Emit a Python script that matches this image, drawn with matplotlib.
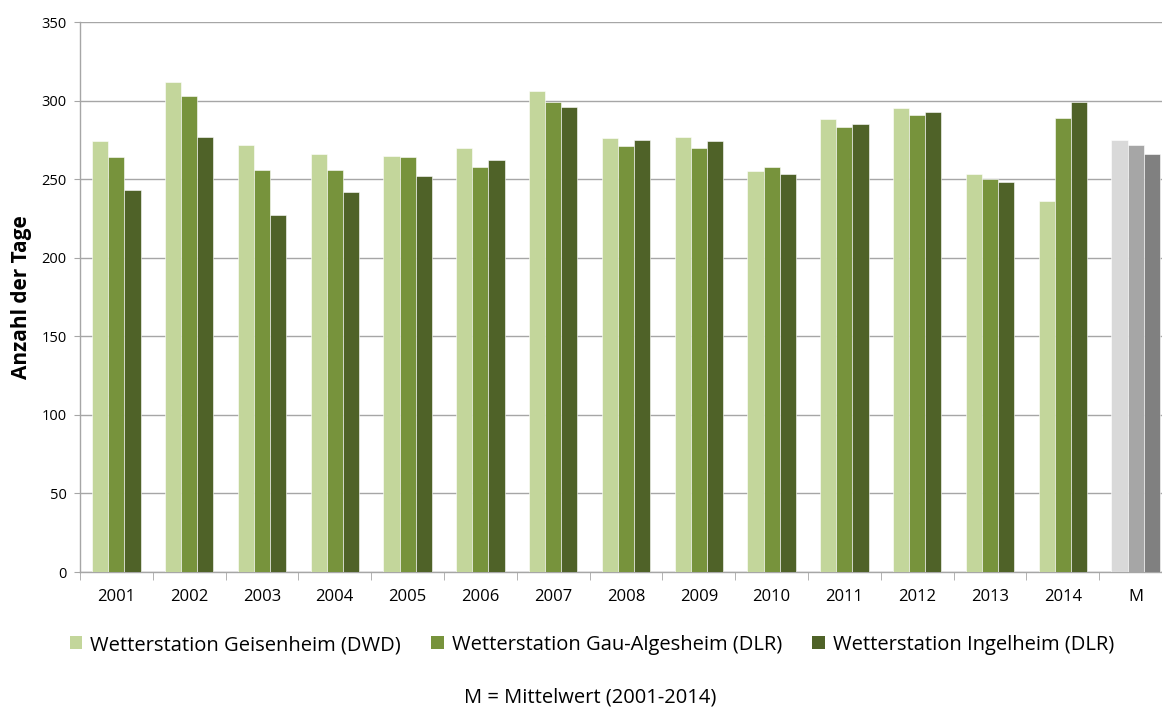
import numpy as np
import matplotlib.pyplot as plt
from matplotlib.patches import Patch

# Data
categories = ['2001', '2002', '2003', '2004', '2005', '2006', '2007',
              '2008', '2009', '2010', '2011', '2012', '2013', '2014', 'M']
geisenheim = [274, 312, 272, 266, 265, 270, 306, 276, 277, 255, 288, 295, 253, 236, 275]
gau_algesheim = [264, 303, 256, 256, 264, 258, 299, 271, 270, 258, 283, 291, 250, 289, 272]
ingelheim = [243, 277, 227, 242, 252, 262, 296, 275, 274, 253, 285, 293, 248, 299, 266]
series_names = ['Wetterstation Geisenheim (DWD)',
                'Wetterstation Gau-Algesheim (DLR)',
                'Wetterstation Ingelheim (DLR)']

green_colors = ['#C3D69B', '#77933C', '#4F6228']
gray_colors = ['#D9D9D9', '#A6A6A6', '#808080']

plt.rcParams['font.family'] = ['Open Sans', 'DejaVu Sans']

W, H = 1162, 707
fig = plt.figure(figsize=(W / 100, H / 100), dpi=100)
# plot area runs a little past the right edge, like the original
ax = fig.add_axes([80 / W, 1 - 572 / H, 1092 / W, 550 / H])

x = np.arange(len(categories))
width = 0.222
all_series = [geisenheim, gau_algesheim, ingelheim]
for i, vals in enumerate(all_series):
    cols = [green_colors[i]] * (len(categories) - 1) + [gray_colors[i]]
    ax.bar(x + (i - 1) * width, vals, width, color=cols,
           edgecolor='white', linewidth=0.4, zorder=3)

ax.set_xlim(-0.5, len(categories) - 0.5)
ax.set_ylim(0, 350)
ax.set_yticks(np.arange(0, 351, 50))
ax.grid(axis='y', color='#A6A6A6', linewidth=1.0, zorder=0)

ax.set_xticks(x)
ax.set_xticklabels(categories, fontsize=12)
ax.set_xticks(np.arange(-0.5, len(categories), 1), minor=True)
ax.tick_params(axis='x', which='major', length=0, pad=12)
ax.tick_params(axis='x', which='minor', length=6, color='#A6A6A6', direction='out')
ax.tick_params(axis='y', length=4.5, color='#A6A6A6', labelsize=10.5, pad=5)

for side in ['top', 'right']:
    ax.spines[side].set_visible(False)
for side in ['left', 'bottom']:
    ax.spines[side].set_color('#A6A6A6')
    ax.spines[side].set_linewidth(1.0)

ax.set_ylabel('Anzahl der Tage', fontsize=15, fontweight='bold')
ax.yaxis.set_label_coords(-48 / 1092, 0.5)

handles = [Patch(facecolor=c, edgecolor='none') for c in green_colors]
fig.legend(handles, series_names, loc='center', bbox_to_anchor=(592 / W, 1 - 645 / H),
           ncol=3, frameon=False, fontsize=14.5, handlelength=0.62, handleheight=0.62,
           handletextpad=0.4, columnspacing=1.5, borderaxespad=0)

fig.text(590 / W, 1 - 697 / H, 'M = Mittelwert (2001-2014)', ha='center', va='center',
         fontsize=14.5)

fig.savefig('out.png', dpi=100)
